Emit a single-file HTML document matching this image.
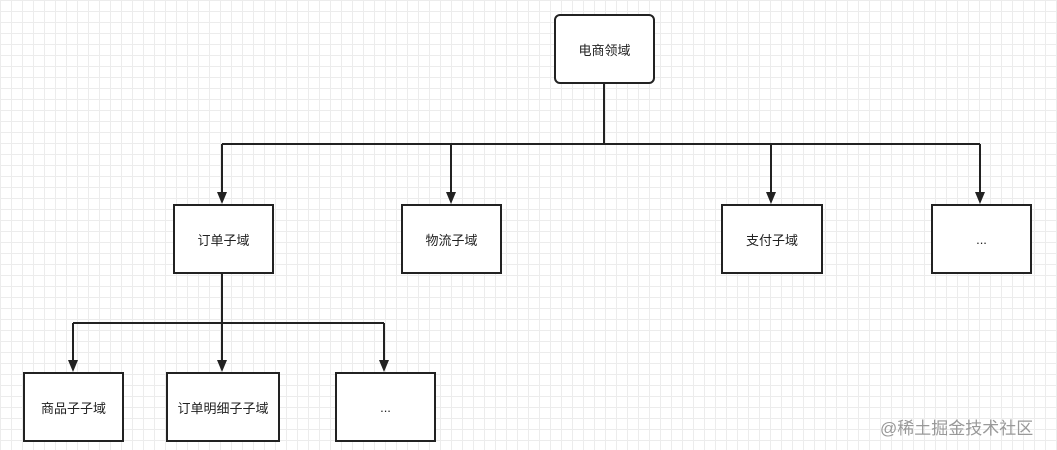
<!DOCTYPE html><html><head><meta charset="utf-8"><style>
body{margin:0;width:1057px;height:450px;overflow:hidden;background:#fff;
background-image:linear-gradient(#ececec 1px,transparent 1px),linear-gradient(90deg,#ececec 1px,transparent 1px);background-size:11px 11px;
font-family:"Liberation Sans","Noto Sans CJK SC",sans-serif;position:relative}
.b{position:absolute;box-sizing:border-box;border:2px solid #222;background:#fff;display:flex;align-items:center;justify-content:center;font-size:13px;color:#222}
svg{position:absolute;left:0;top:0;z-index:2}
</style></head><body>
<div class="b" style="left:554px;top:14px;width:101px;height:70px;border-radius:6px">电商领域</div>
<div class="b" style="left:173px;top:204px;width:101px;height:70px">订单子域</div>
<div class="b" style="left:401px;top:204px;width:101px;height:70px">物流子域</div>
<div class="b" style="left:721px;top:204px;width:102px;height:70px">支付子域</div>
<div class="b" style="left:931px;top:204px;width:101px;height:70px">...</div>
<div class="b" style="left:23px;top:372px;width:101px;height:70px">商品子子域</div>
<div class="b" style="left:166px;top:372px;width:114px;height:70px">订单明细子子域</div>
<div class="b" style="left:335px;top:372px;width:101px;height:70px">...</div>
<svg width="1057" height="450">
<g stroke="#222" stroke-width="2" fill="none">
<path d="M604 83V144M222 144H980"/>
<path d="M222 144V195M451 144V195M771 144V195M980 144V195"/>
<path d="M222 273V323M73 323H384"/>
<path d="M73 323V363M222 323V363M384 323V363"/>
</g>
<g fill="#222">
<path d="M217 192H227L222 204z"/><path d="M446 192H456L451 204z"/><path d="M766 192H776L771 204z"/><path d="M975 192H985L980 204z"/>
<path d="M68 360H78L73 372z"/><path d="M217 360H227L222 372z"/><path d="M379 360H389L384 372z"/>
</g></svg>
<div style="position:absolute;left:880px;top:414px;font-size:17px;color:#999">@稀土掘金技术社区</div>
</body></html>
